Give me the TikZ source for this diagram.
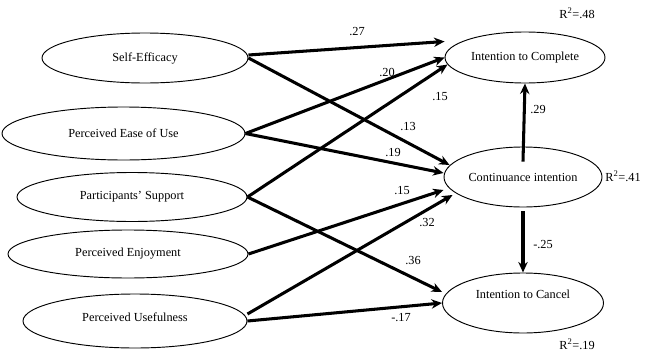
\documentclass[tikz,border=0pt]{standalone}
\usepackage{fontspec}
\setmainfont{Liberation Serif}
\usetikzlibrary{arrows.meta,shapes.geometric}

\begin{document}
\begin{tikzpicture}[
    x=0.03cm, y=-0.03cm,
    >={Stealth[length=9pt,width=8pt]},
    effect/.style={->, line width=2.6pt, black},
    construct/.style={ellipse, draw=black, line width=0.8pt, inner sep=0pt, font=\fontsize{10.5}{12}\selectfont},
    coef/.style={font=\fontsize{10.5}{12}\selectfont, inner sep=0pt}
]
    \useasboundingbox (0,0) rectangle (660,362);

    % predictors
    \node[construct, minimum width=6.18cm, minimum height=1.5cm] (se) at (145,58) {Self-Efficacy};
    \node[construct, minimum width=7.29cm, minimum height=1.59cm] (peu) at (123.5,133.5) {Perceived Ease of Use};
    \node[construct, minimum width=6.9cm, minimum height=1.47cm] (ps) at (132,197) {Participants' Support};
    \node[construct, minimum width=7.2cm, minimum height=1.44cm] (penj) at (128,254) {Perceived Enjoyment};
    \node[construct, minimum width=6.72cm, minimum height=1.62cm, text depth=6pt] (pu) at (135,321) {Perceived Usefulness};

    % outcomes
    \node[construct, minimum width=4.8cm, minimum height=1.53cm] (ic) at (525,57.5) {Intention to Complete};
    \node[construct, minimum width=4.74cm, minimum height=1.8cm] (ci) at (523,177) {Continuance intention};
    \node[construct, minimum width=4.83cm, minimum height=1.8cm, text depth=15pt] (ican) at (523,303) {Intention to Cancel};

    \draw[effect] ([yshift=0.09cm]se.east) -- ([yshift=0.48cm]ic.west);
    \draw[effect] (se.east) -- ([xshift=0.18cm,yshift=0.36cm]ci.west);
    \draw[effect] (peu.east) -- (ic.west);
    \draw[effect] (peu.east) -- ([yshift=0.12cm]ci.west);
    \draw[effect] (ps.east) -- ([xshift=0.09cm,yshift=-0.21cm]ic.west);
    \draw[effect] (ps.east) -- ([yshift=0.33cm]ican.west);
    \draw[effect] (penj.east) -- ([yshift=-0.39cm]ci.west);
    \draw[effect] ([yshift=0.21cm]pu.east) -- ([xshift=0.27cm,yshift=-0.54cm]ci.west);
    \draw[effect] (pu.east) -- (ican.west);
    \draw[effect] ([yshift=-0.45cm]ci.north) -- (ic.south);
    \draw[effect] ([yshift=-0.12cm]ci.south) -- (ican.north);

    \foreach \val/\px/\py [count=\i] in {.27/357/32, .20/387/72, .15/440/97, .13/408/127, .19/393/153,
        .15/402/191, .32/427/223, .36/413/261, -.17/401/318, .29/538/110, -.25/543/245}
        \node[coef] (c\i) at (\px,\py) {\val};

    \node[coef] (r2ic) at (577,13) {R\textsuperscript{2}=.48};
    \node[coef] (r2ci) at (623,176) {R\textsuperscript{2}=.41};
    \node[coef] (r2ican) at (577,344) {R\textsuperscript{2}=.19};
\end{tikzpicture}
\end{document}
